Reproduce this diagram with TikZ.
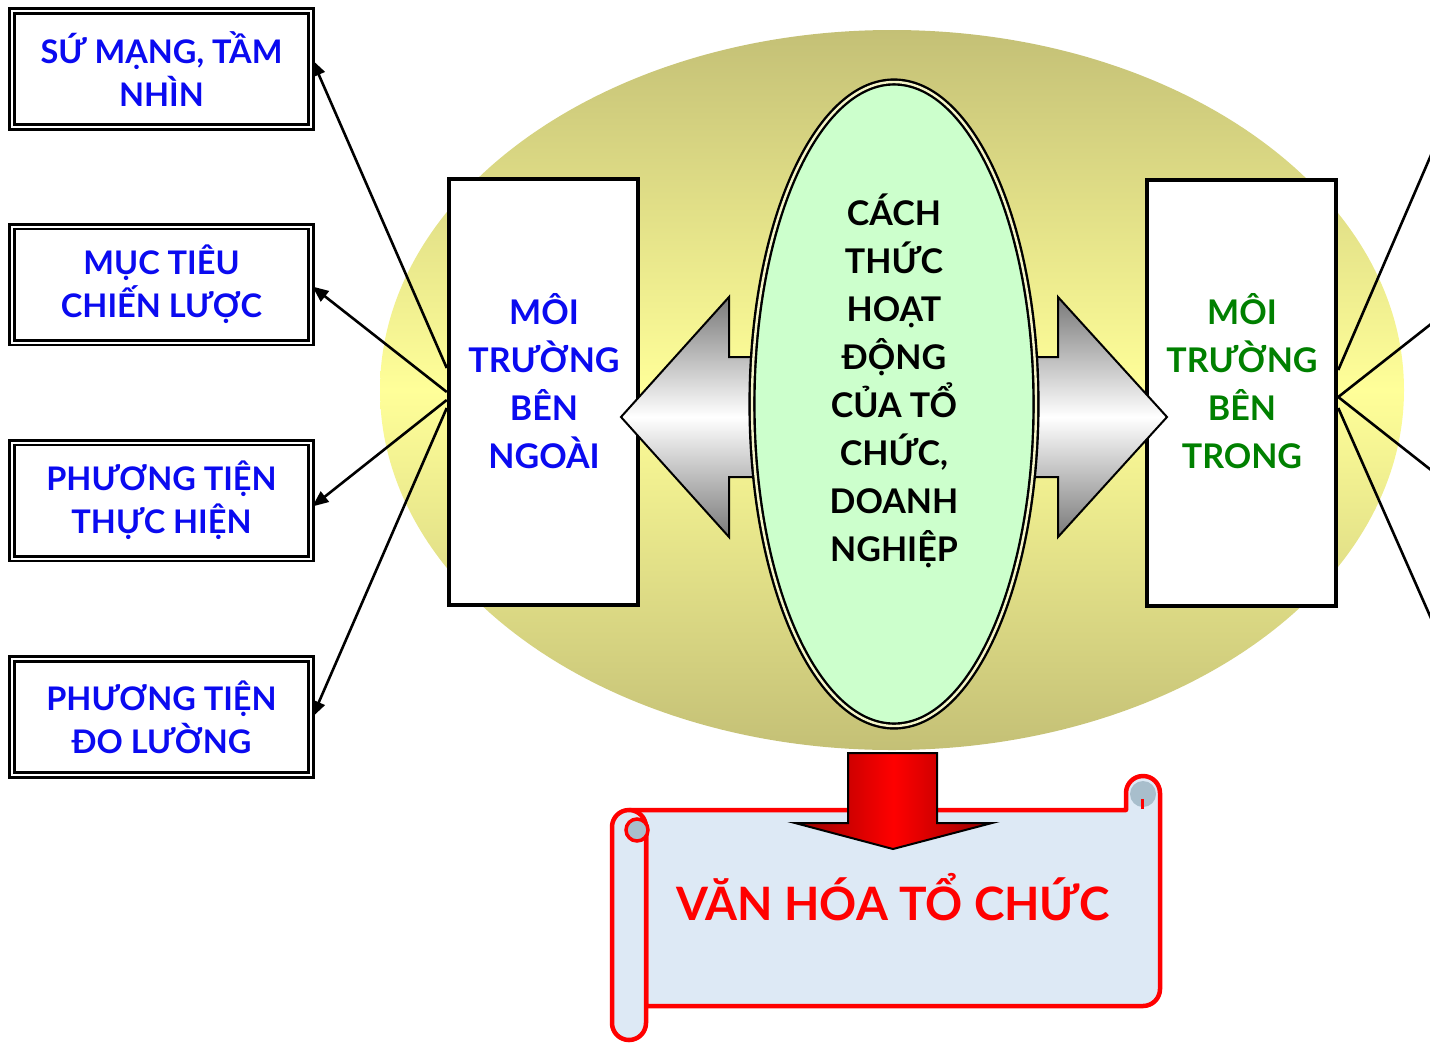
\documentclass[tikz,border=0pt]{standalone}
\usepackage{fontspec}
\setmainfont{Lato}
\usetikzlibrary{arrows.meta,shapes.geometric,calc}
\definecolor{olivec}{RGB}{196,192,118}
\definecolor{yelc}{RGB}{255,255,153}
\definecolor{mintc}{RGB}{204,255,204}
\definecolor{creamc}{RGB}{245,245,200}
\definecolor{paperc}{RGB}{221,233,245}
\definecolor{curlc}{RGB}{168,190,204}
\definecolor{txtblue}{RGB}{10,10,240}
\definecolor{txtgreen}{RGB}{0,128,0}
\definecolor{darkred}{RGB}{150,0,0}
\begin{document}
\begin{tikzpicture}[x=1pt,y=-1pt,
  smallbox/.style={draw, double=white, double distance=2pt, line width=2.8pt,
    minimum width=299pt, minimum height=116pt, inner sep=0pt, text=txtblue,
    font=\bfseries\fontsize{32.5}{43}\selectfont, align=center, fill=white},
  bigbox/.style={draw, line width=4.5pt, fill=white, minimum width=189pt,
    minimum height=426pt, inner sep=0pt},
  bigtext/.style={font=\bfseries\fontsize{34}{48}\selectfont, align=center, inner sep=0pt},
  conn/.style={line width=2.6pt, -{Triangle[length=16pt,width=13pt]}},
  grayarrow/.style={draw=black, line width=2pt, top color=gray!95!black,
    bottom color=gray!95!black, middle color=white},
  scrollline/.style={draw=red, line width=4.5pt, fill=paperc, line join=round}
]
\useasboundingbox (0,0) rectangle (1430,1042);
\clip (0,0) rectangle (1430,1042);

% big background ellipse
\path[top color=olivec, bottom color=olivec, middle color=yelc]
  (892,390) ellipse (512pt and 360pt);

% environment boxes
\node[bigbox] (ext) at (543.5,392) {};
\node[bigbox] (int) at (1241.5,393) {};
\node[bigtext, text=txtblue] (exttext) at (544,381) {MÔI\\TRƯỜNG\\BÊN\\NGOÀI};
\node[bigtext, text=txtgreen] (inttext) at (1242,381) {MÔI\\TRƯỜNG\\BÊN\\TRONG};

% gray double arrow parts
\path[grayarrow] (621,417) -- (729,297) -- (729,357) -- (758,357) -- (758,477)
  -- (729,477) -- (729,537) -- cycle;
\path[grayarrow] (1167,417) -- (1058,297) -- (1058,357) -- (1030,357) -- (1030,477)
  -- (1058,477) -- (1058,537) -- cycle;

% core ellipse
\node[ellipse, draw, line width=2.4pt, double=creamc, double distance=2.4pt,
  fill=mintc, minimum width=284pt, minimum height=644pt, inner sep=0pt]
  (core) at (894,404) {};
\node[bigtext] (coretext) at (894,381)
  {CÁCH\\THỨC\\HOẠT\\ĐỘNG\\CỦA TỔ\\CHỨC,\\DOANH\\NGHIỆP};

% left boxes
\node[smallbox] (b1) at (161.5,69) {SỨ MẠNG, TẦM\\NHÌN};
\node[smallbox] (b2) at (161.5,284.5) {MỤC TIÊU\\CHIẾN LƯỢC};
\node[smallbox] (b3) at (161.5,500.5) {PHƯƠNG TIỆN\\THỰC HIỆN};
\node[smallbox] (b4) at (161.5,717) {PHƯƠNG TIỆN\\ĐO LƯỜNG};

% connectors left
\draw[conn] ([yshift=24pt]ext.west) -- ([yshift=9pt]b1.east);
\draw[conn] (ext.west) -- ([yshift=-2pt]b2.east);
\draw[conn] ([yshift=-8pt]ext.west) -- ([yshift=-6pt]b3.east);
\draw[conn] ([yshift=-16pt]ext.west) -- (b4.east);

% connectors right (targets beyond the page)
\coordinate (r1) at (1472,60);
\coordinate (r2) at (1478,287);
\coordinate (r3) at (1478,507);
\coordinate (r4) at (1475,718);
\draw[conn] ([yshift=23pt]int.east) -- (r1);
\draw[conn] ([yshift=-4pt]int.east) -- (r2);
\draw[conn] ([yshift=-4pt]int.east) -- (r3);
\draw[conn] ([yshift=-15pt]int.east) -- (r4);

% scroll
\path[scrollline] (629,810) -- (1126,810) -- (1126,793)
  arc[start angle=180, end angle=0, radius=17pt] -- (1160,989)
  arc[start angle=0, end angle=-90, radius=17pt] -- (646,1006) -- (646,827) -- cycle;
\path[scrollline, rounded corners=17pt] (612,810) rectangle (646,1040);
\path[draw=red, line width=3.5pt, fill=curlc] (637,830) circle (11pt);
\fill[curlc] (1143,794) circle (13pt);
\draw[red, line width=3pt] (1142,809) -- (1142,799);
\node[font=\bfseries\fontsize{46}{50}\selectfont, text=red, inner sep=0pt, anchor=base]
  (culture) at (893,920) {VĂN HÓA TỔ CHỨC};

% red arrow
\path[draw=black, line width=2pt, line join=miter, left color=darkred, right color=darkred, middle color=red]
  (848,753) -- (937,753) -- (937,823) -- (992,823) -- (893,849) -- (795,823)
  -- (848,823) -- cycle;
\end{tikzpicture}
\end{document}
